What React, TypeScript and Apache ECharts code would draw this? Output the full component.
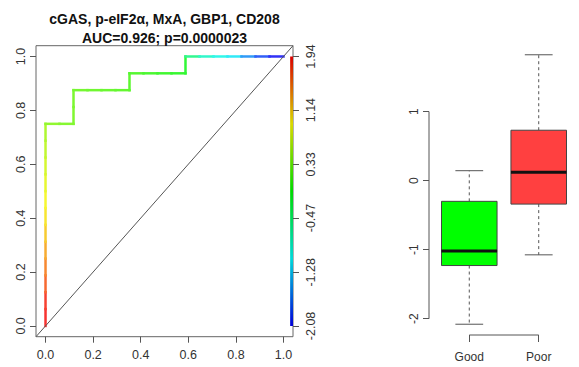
import React, { useEffect, useRef } from "react";
import * as echarts from "echarts";

// ---------- data ----------
const titleLines = ["cGAS, p-eIF2\u03b1, MxA, GBP1, CD208", "AUC=0.926; p=0.0000023"];

const rocTicks = [0, 0.2, 0.4, 0.6, 0.8, 1.0];
const cutoffTicks = [1.94, 1.14, 0.33, -0.47, -1.28, -2.08];

// ROC curve points (false positive rate, true positive rate, cutoff)
const rocFpr = [
  0, 0, 0, 0, 0, 0, 0, 0, 0, 0, 0, 0, 0,
  0.0588, 0.1176, 0.1176, 0.1176,
  0.1765, 0.2353, 0.2941, 0.3529, 0.3529,
  0.4118, 0.4706, 0.5294, 0.5882, 0.5882,
  0.6471, 0.7059, 0.7647, 0.8235, 0.8824, 0.9412, 1.0,
];
const rocTpr = [
  0, 0.0625, 0.125, 0.1875, 0.25, 0.3125, 0.375, 0.4375, 0.5, 0.5625, 0.625, 0.6875, 0.75,
  0.75, 0.75, 0.8125, 0.875,
  0.875, 0.875, 0.875, 0.875, 0.9375,
  0.9375, 0.9375, 0.9375, 0.9375, 1.0,
  1.0, 1.0, 1.0, 1.0, 1.0, 1.0, 1.0,
];
const rocCutoff = [
  1.94, 1.93, 1.86, 1.66, 1.5, 1.32, 1.16, 1.03, 0.93, 0.85, 0.76, 0.66, 0.56,
  0.42, 0.36, 0.33, 0.31,
  0.28, 0.25, 0.22, 0.19, 0.15,
  0.11, 0.06, 0.01, -0.04, -0.1,
  -0.55, -0.85, -1.0, -1.15, -1.55, -1.85, -2.08,
];

const categories = ["Good", "Poor"];
const boxX = [1, 2];
const boxMin = [-2.08, -1.075];
const boxQ1 = [-1.23, -0.34];
const boxMedian = [-1.02, 0.12];
const boxQ3 = [-0.3, 0.73];
const boxMax = [0.144, 1.823];
const boxYTicks = [-2, -1, 0, 1];
const boxColors = ["#00ff00", "#ff4040"];

// ---------- helpers ----------
const FONT = "'Liberation Sans', Arial, Helvetica, sans-serif";
const cbMax = cutoffTicks[0];
const cbMin = cutoffTicks[cutoffTicks.length - 1];

function hsvToHex(h: number, s: number, v: number) {
  const c = v * s;
  const hp = h / 60;
  const x = c * (1 - Math.abs((hp % 2) - 1));
  let r = 0, g = 0, b = 0;
  if (hp < 1) { r = c; g = x; }
  else if (hp < 2) { r = x; g = c; }
  else if (hp < 3) { g = c; b = x; }
  else if (hp < 4) { g = x; b = c; }
  else if (hp < 5) { r = x; b = c; }
  else { r = c; b = x; }
  const m = v - c;
  const to = (u: number) => Math.round((u + m) * 255).toString(16).padStart(2, "0");
  return "#" + to(r) + to(g) + to(b);
}
function rainbow(cut: number, s = 0.8, v = 0.97) {
  let f = (cbMax - cut) / (cbMax - cbMin);
  f = Math.max(0, Math.min(1, f));
  return hsvToHex(f * 240, s, v);
}

const pad = (lo: number, hi: number) => {
  const d = (hi - lo) * 0.04;
  return [lo - d, hi + d];
};
const [rocLo, rocHi] = pad(0, 1);
const [cbLo, cbHi] = pad(cbMin, cbMax);
const boxXLo = 0.42;
const boxXHi = 2.58;
const [boxYLo, boxYHi] = pad(Math.min(...boxMin), Math.max(...boxMax));

export default function App() {
  const ref = useRef<HTMLDivElement>(null);
  useEffect(() => {
    if (!ref.current) return;
    const chart = echarts.init(ref.current, undefined, { renderer: "svg" });

    const segs: number[][] = [];
    for (let i = 1; i < rocFpr.length; i++) {
      segs.push([rocFpr[i - 1], rocTpr[i - 1], rocFpr[i], rocTpr[i], rocCutoff[i]]);
    }
    const boxData = boxX.map((x, i) => [x, boxMin[i], boxQ1[i], boxMedian[i], boxQ3[i], boxMax[i], i]);

    const gradStops: any[] = [];
    for (let k = 0; k <= 12; k++) {
      const f = k / 12;
      gradStops.push({ offset: f, color: rainbow(cbMax - f * (cbMax - cbMin), 1, 0.85) });
    }

    const tickStyle = { color: "#555", width: 1 };
    const labelBase = { fontFamily: FONT, fontSize: 12.5, color: "#333" };

    const option: any = {
      animation: false,
      textStyle: { fontFamily: FONT },
      graphic: [
        {
          type: "text",
          x: 164.5,
          y: 10,
          style: {
            text: titleLines.join("\n"),
            font: `bold 14px ${FONT}`,
            textAlign: "center",
            textVerticalAlign: "top",
            lineHeight: 18.5,
            fill: "#111",
          },
        },
      ],
      grid: [
        { left: 36, top: 45.7, width: 257, height: 291, show: true, borderColor: "#666", borderWidth: 1, backgroundColor: "transparent", outerBoundsMode: "none", containLabel: false },
        { left: 429, top: 44, width: 150, height: 291, show: false, outerBoundsMode: "none", containLabel: false },
      ],
      xAxis: [
        {
          gridIndex: 0, type: "value", min: rocLo, max: rocHi,
          axisLine: { show: false, onZero: false },
          splitLine: { show: false },
          axisTick: { show: true, length: 6, customValues: rocTicks, lineStyle: tickStyle },
          axisLabel: { ...labelBase, customValues: rocTicks, margin: 12, formatter: (v: number) => v.toFixed(1) },
        },
        {
          gridIndex: 1, type: "value", min: boxXLo, max: boxXHi,
          axisLine: { show: false, onZero: false },
          splitLine: { show: false },
          axisTick: { show: true, length: 7, customValues: boxX, lineStyle: tickStyle },
          axisLabel: { ...labelBase, fontSize: 12, customValues: boxX, margin: 16, formatter: (v: number) => categories[Math.round(v) - 1] },
        },
      ],
      yAxis: [
        {
          gridIndex: 0, type: "value", position: "left", min: rocLo, max: rocHi,
          axisLine: { show: false, onZero: false },
          splitLine: { show: false },
          axisTick: { show: true, length: 6, customValues: rocTicks, lineStyle: tickStyle },
          axisLabel: { ...labelBase, customValues: rocTicks, rotate: 90, margin: 9, formatter: (v: number) => v.toFixed(1) },
        },
        {
          gridIndex: 0, type: "value", position: "right", min: cbLo, max: cbHi,
          axisLine: { show: false, onZero: false },
          splitLine: { show: false },
          axisTick: { show: true, length: 6, customValues: cutoffTicks, lineStyle: tickStyle },
          axisLabel: { ...labelBase, customValues: cutoffTicks, rotate: 90, margin: 11, formatter: (v: number) => v.toFixed(2) },
        },
        {
          gridIndex: 1, type: "value", position: "left", min: boxYLo, max: boxYHi,
          axisLine: { show: false, onZero: false },
          splitLine: { show: false },
          axisTick: { show: true, length: 6, customValues: boxYTicks, lineStyle: tickStyle },
          axisLabel: { ...labelBase, fontSize: 12, customValues: boxYTicks, rotate: 90, margin: 9, formatter: (v: number) => String(v) },
        },
      ],
      series: [
        {
          type: "custom",
          name: "colorbar",
          xAxisIndex: 0, yAxisIndex: 1,
          silent: true,
          data: [[1.028, cbMax, 1.04, cbMin]],
          encode: { x: [0, 2], y: [1, 3] },
          renderItem: (params: any, api: any) => {
            const p0 = api.coord([api.value(0), api.value(1)]);
            const p1 = api.coord([api.value(2), api.value(3)]);
            return {
              type: "rect",
              shape: { x: p0[0], y: p0[1], width: p1[0] - p0[0], height: p1[1] - p0[1] },
              style: { fill: new echarts.graphic.LinearGradient(0, 0, 0, 1, gradStops) },
            };
          },
        },
        {
          type: "custom",
          name: "roc",
          xAxisIndex: 0, yAxisIndex: 0,
          silent: true,
          data: segs,
          encode: { x: [0, 2], y: [1, 3] },
          renderItem: (params: any, api: any) => {
            const p0 = api.coord([api.value(0), api.value(1)]);
            const p1 = api.coord([api.value(2), api.value(3)]);
            return {
              type: "line",
              shape: { x1: p0[0], y1: p0[1], x2: p1[0], y2: p1[1] },
              style: { stroke: rainbow(api.value(4)), lineWidth: 2.5, lineCap: "square" },
            };
          },
        },
        {
          type: "line",
          name: "diagonal",
          xAxisIndex: 0, yAxisIndex: 0,
          silent: true,
          symbol: "none",
          data: [[rocLo, rocLo], [rocHi, rocHi]],
          lineStyle: { color: "#555", width: 1 },
        },
        {
          type: "line",
          name: "box-y-axis",
          xAxisIndex: 1, yAxisIndex: 2,
          silent: true, clip: false,
          symbol: "none",
          data: [[boxXLo, boxYTicks[0]], [boxXLo, boxYTicks[boxYTicks.length - 1]]],
          lineStyle: { color: "#555", width: 1 },
        },
        {
          type: "line",
          name: "box-x-axis",
          xAxisIndex: 1, yAxisIndex: 2,
          silent: true, clip: false,
          symbol: "none",
          data: [[boxX[0], boxYLo], [boxX[boxX.length - 1], boxYLo]],
          lineStyle: { color: "#555", width: 1 },
        },
        {
          type: "custom",
          name: "boxplot",
          xAxisIndex: 1, yAxisIndex: 2,
          silent: true,
          data: boxData,
          encode: { x: 0, y: [1, 2, 3, 4, 5] },
          renderItem: (params: any, api: any) => {
            const x = api.value(0);
            const idx = api.value(6);
            const halfBox = 0.4, halfStaple = 0.2;
            const c = (xx: number, yy: number) => api.coord([xx, yy]);
            const pMin = c(x, api.value(1));
            const pQ1 = c(x, api.value(2));
            const pMed = c(x, api.value(3));
            const pQ3 = c(x, api.value(4));
            const pMax = c(x, api.value(5));
            const left = c(x - halfBox, 0)[0];
            const right = c(x + halfBox, 0)[0];
            const sl = c(x - halfStaple, 0)[0];
            const sr = c(x + halfStaple, 0)[0];
            const whisk = { stroke: "#555", lineWidth: 1, lineDash: [3, 3] };
            const solid = { stroke: "#555", lineWidth: 1 };
            return {
              type: "group",
              children: [
                { type: "line", shape: { x1: pQ3[0], y1: pQ3[1], x2: pMax[0], y2: pMax[1] }, style: whisk },
                { type: "line", shape: { x1: pQ1[0], y1: pQ1[1], x2: pMin[0], y2: pMin[1] }, style: whisk },
                { type: "line", shape: { x1: sl, y1: pMax[1], x2: sr, y2: pMax[1] }, style: solid },
                { type: "line", shape: { x1: sl, y1: pMin[1], x2: sr, y2: pMin[1] }, style: solid },
                {
                  type: "rect",
                  shape: { x: left, y: pQ3[1], width: right - left, height: pQ1[1] - pQ3[1] },
                  style: { fill: boxColors[idx], stroke: "#444", lineWidth: 1 },
                },
                { type: "line", shape: { x1: left, y1: pMed[1], x2: right, y2: pMed[1] }, style: { stroke: "#111", lineWidth: 3 } },
              ],
            };
          },
        },
      ],
    };
    chart.setOption(option);
    return () => chart.dispose();
  }, []);
  return (
    <div
      ref={ref}
      style={{ position: "fixed", left: 0, top: 0, width: 579, height: 367, background: "#fff" }}
    />
  );
}
